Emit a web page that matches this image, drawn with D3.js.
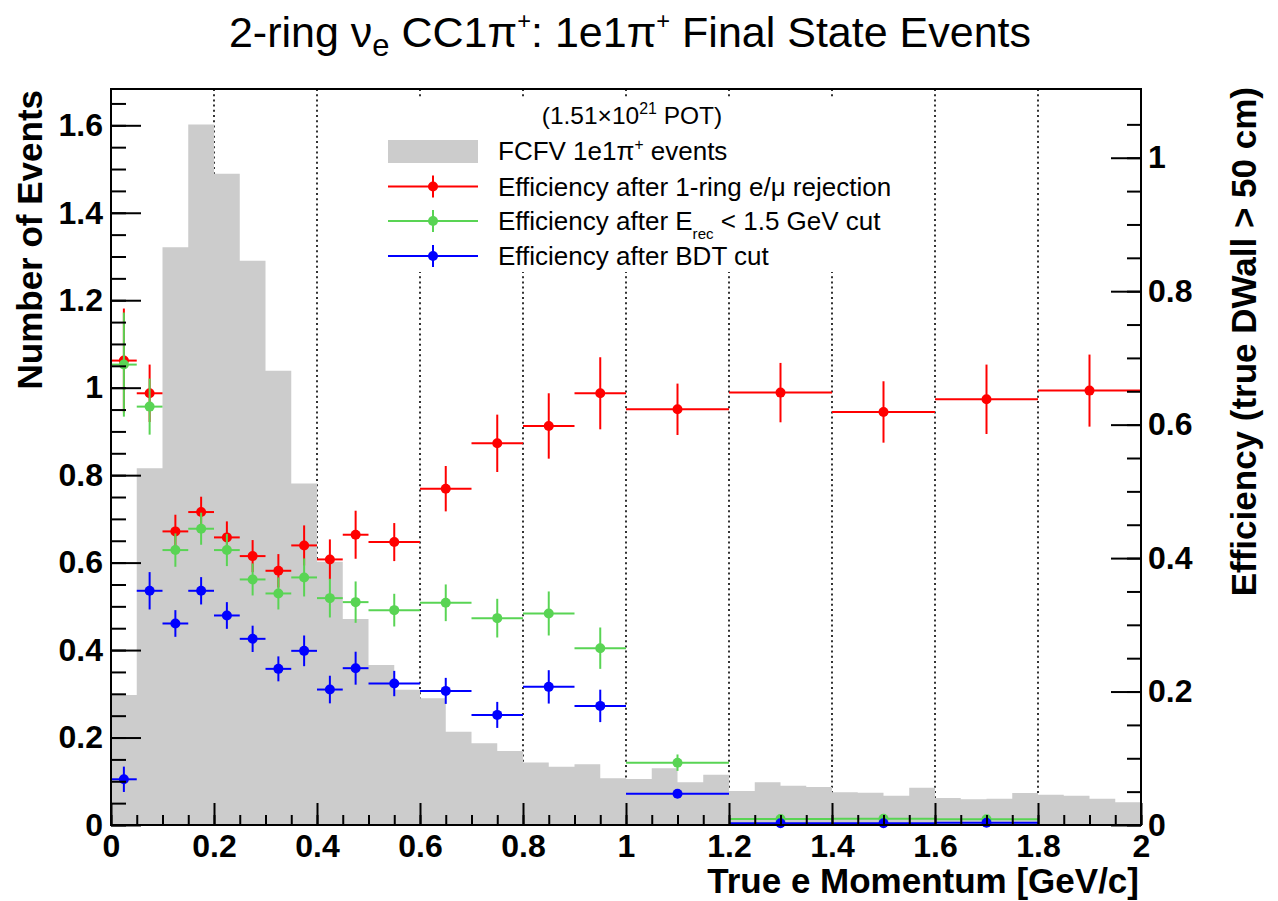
<!DOCTYPE html>
<html><head><meta charset="utf-8">
<script src="https://cdn.jsdelivr.net/npm/d3@7"></script>
<style>body{margin:0;background:#fff}</style>
</head><body>
<svg id="c" width="1278" height="901" xmlns="http://www.w3.org/2000/svg"></svg>
<script>
// ---------------- data ----------------
const histBinWidth = 0.05;
const histValues = [0.297,0.816,1.321,1.602,1.489,1.290,1.039,0.781,0.602,0.471,
                    0.366,0.309,0.290,0.213,0.187,0.169,0.143,0.133,0.139,0.107,
                    0.105,0.130,0.098,0.115,0.078,0.098,0.090,0.087,0.075,0.074,
                    0.067,0.085,0.062,0.059,0.060,0.073,0.069,0.067,0.060,0.052];
const effEdges = [0,0.05,0.1,0.15,0.2,0.25,0.3,0.35,0.4,0.45,0.5,0.6,0.7,0.8,0.9,1.0,1.2,1.4,1.6,1.8,2.0];
const effRejection = [0.696,0.647,0.440,0.469,0.431,0.403,0.381,0.419,0.398,0.435,0.424,0.504,0.572,0.598,0.647,0.623,0.648,0.619,0.638,0.651];
const errRejection = [0.078,0.043,0.025,0.023,0.024,0.024,0.025,0.030,0.030,0.036,0.0285,0.034,0.043,0.049,0.054,0.0385,0.0445,0.046,0.052,0.054];
const effErec = [0.690,0.627,0.412,0.444,0.412,0.368,0.347,0.371,0.340,0.334,0.322,0.333,0.310,0.317,0.265,0.0934,0.009,0.0094,0.0085,null];
const errErec = [0.078,0.042,0.025,0.024,0.024,0.024,0.024,0.0285,0.029,0.031,0.0245,0.0275,0.029,0.033,0.031,0.0123,0.002,0.002,0.002,null];
const effBDT = [0.0685,0.351,0.302,0.351,0.314,0.279,0.234,0.261,0.203,0.235,0.212,0.201,0.165,0.207,0.1785,0.0469,0.0025,0.0025,0.0035,null];
const errBDT = [0.019,0.028,0.020,0.0205,0.020,0.0197,0.0187,0.023,0.0207,0.0247,0.019,0.0195,0.0195,0.025,0.0243,0.003,0.001,0.001,0.001,null];
const xTicks = [0,0.2,0.4,0.6,0.8,1,1.2,1.4,1.6,1.8,2];
const xMinorTicks = d3.range(0,2.0001,0.05);
const yLeftTicks = [0,0.2,0.4,0.6,0.8,1,1.2,1.4,1.6];
const yLeftMinor = d3.range(0,1.68,0.05);
const yRightTicks = [0,0.2,0.4,0.6,0.8,1];
const yRightMinor = d3.range(0,1.1,0.05);
const gridX = [0.2,0.4,0.6,0.8,1.0,1.2,1.4,1.6,1.8];
const seriesNames = ["Efficiency after 1-ring e/\u03bc rejection","Efficiency after E","Efficiency after BDT cut"];
const seriesColors = ["#ff0000","#59d454","#0000ff"];
const histColor = "#cccccc";

// ---------------- layout ----------------
const L = 111, R = 1141, T = 89, B = 825;
const x = d3.scaleLinear().domain([0,2]).range([L,R]);
const yL = d3.scaleLinear().domain([0,1.683]).range([B,T]);
const yR = d3.scaleLinear().domain([0,1.103]).range([B,T]);
const FONT = "'Liberation Sans', Arial, Helvetica, sans-serif";
const svg = d3.select("#c");
svg.append("rect").attr("width",1278).attr("height",901).attr("fill","#fff");

// grid
svg.append("g").selectAll("line").data(gridX).join("line")
  .attr("x1",d=>x(d)).attr("x2",d=>x(d)).attr("y1",T).attr("y2",B)
  .attr("stroke","#000").attr("stroke-width",1.6).attr("stroke-dasharray","2,3.2");

// histogram
let p = d3.path();
p.moveTo(x(0), yL(0));
histValues.forEach((v,i)=>{ const lo=i*histBinWidth, hi=(i+1)*histBinWidth; p.lineTo(x(lo), yL(v)); p.lineTo(x(hi), yL(v)); });
p.lineTo(x(2), yL(0)); p.closePath();
svg.append("path").attr("d",p.toString()).attr("fill",histColor).attr("stroke","none");

// legend box (white, covers grid)
svg.append("rect").attr("x",380).attr("y",97).attr("width",525).attr("height",175).attr("fill","#fff");

// efficiency points
const series = [[effRejection,errRejection],[effErec,errErec],[effBDT,errBDT]];
series.forEach(([vals,errs],si)=>{
  const g = svg.append("g").attr("stroke",seriesColors[si]).attr("fill",seriesColors[si]).attr("stroke-width",2);
  vals.forEach((v,i)=>{
    if(v===null) return;
    const lo=effEdges[i], hi=effEdges[i+1], c=(lo+hi)/2, e=errs[i];
    g.append("line").attr("x1",x(lo)).attr("x2",x(hi)).attr("y1",yR(v)).attr("y2",yR(v));
    g.append("line").attr("x1",x(c)).attr("x2",x(c)).attr("y1",yR(Math.max(0,v-e))).attr("y2",yR(v+e));
    g.append("circle").attr("cx",x(c)).attr("cy",yR(v)).attr("r",5).attr("stroke","none");
  });
});

// axes
function styleAxis(g){ g.select(".domain").remove(); g.selectAll("line").attr("stroke","#000").attr("stroke-width",2);
  g.selectAll("text").attr("font-family",FONT).attr("font-weight","bold").attr("font-size",32).attr("fill","#000"); }
const fmt = d=>String(+d.toFixed(2));
svg.append("g").attr("transform",`translate(0,${B})`).call(d3.axisBottom(x).tickValues(xMinorTicks).tickSize(-10).tickFormat("")).call(styleAxis);
svg.append("g").attr("transform",`translate(0,${B})`).call(d3.axisBottom(x).tickValues(xTicks).tickSize(-22).tickPadding(9).tickFormat(fmt)).call(styleAxis);
svg.append("g").attr("transform",`translate(${L},0)`).call(d3.axisLeft(yL).tickValues(yLeftMinor).tickSize(-15).tickFormat("")).call(styleAxis);
svg.append("g").attr("transform",`translate(${L},0)`).call(d3.axisLeft(yL).tickValues(yLeftTicks).tickSize(-30).tickPadding(8).tickFormat(fmt)).call(styleAxis);
svg.append("g").attr("transform",`translate(${R},0)`).call(d3.axisRight(yR).tickValues(yRightMinor).tickSize(-14).tickFormat("")).call(styleAxis);
svg.append("g").attr("transform",`translate(${R},0)`).call(d3.axisRight(yR).tickValues(yRightTicks).tickSize(-30).tickPadding(7).tickFormat(fmt)).call(styleAxis);

// frame
svg.append("rect").attr("x",L).attr("y",T).attr("width",R-L).attr("height",B-T).attr("fill","none").attr("stroke","#000").attr("stroke-width",2);

// rich text helper
function rich(sel, parts, fs){
  let shift = 0;
  parts.forEach(pt=>{
    const s = pt.scale || 1;
    const target = pt.sup ? -pt.sup*fs : (pt.sub ? pt.sub*fs : 0);
    sel.append("tspan").attr("dy", target - shift).attr("font-size", fs*s).text(pt.t);
    shift = target;
  });
}

// axis titles
svg.append("text").attr("x",R-2).attr("y",893).attr("text-anchor","end")
  .attr("font-family",FONT).attr("font-weight","bold").attr("font-size",35).text("True e Momentum [GeV/c]");
svg.append("text").attr("transform",`translate(42,${T+1}) rotate(-90)`).attr("text-anchor","end")
  .attr("font-family",FONT).attr("font-weight","bold").attr("font-size",35).text("Number of Events");
svg.append("text").attr("transform",`translate(1256,${T-2}) rotate(-90)`).attr("text-anchor","end")
  .attr("font-family",FONT).attr("font-weight","bold").attr("font-size",35).text("Efficiency (true DWall > 50 cm)");

// title
const title = svg.append("text").attr("x",630).attr("y",47).attr("text-anchor","middle").attr("font-family",FONT).attr("font-size",43);
rich(title,[{t:"2-ring \u03bd"},{t:"e",sub:0.22,scale:0.72},{t:" CC1\u03c0"},{t:"+",sup:0.42,scale:0.55},{t:": 1e1\u03c0"},{t:"+",sup:0.42,scale:0.55},{t:" Final State Events"}],43);

// legend
const LF = 26;
const pot = svg.append("text").attr("x",632).attr("y",124).attr("text-anchor","middle").attr("font-family",FONT).attr("font-size",24.5);
rich(pot,[{t:"(1.51\u00d710"},{t:"21",sup:0.4,scale:0.65},{t:" POT)"}],24.5);
svg.append("rect").attr("x",388).attr("y",140).attr("width",90).attr("height",23).attr("fill",histColor);
const t0 = svg.append("text").attr("x",498).attr("y",160).attr("font-family",FONT).attr("font-size",LF);
rich(t0,[{t:"FCFV 1e1\u03c0"},{t:"+",sup:0.4,scale:0.6},{t:" events"}],LF);
const rowsY = [186.5,221,256];
rowsY.forEach((cy,i)=>{
  const g = svg.append("g").attr("stroke",seriesColors[i]).attr("fill",seriesColors[i]).attr("stroke-width",2);
  g.append("line").attr("x1",388).attr("x2",478).attr("y1",cy).attr("y2",cy);
  g.append("line").attr("x1",433).attr("x2",433).attr("y1",cy-11).attr("y2",cy+11);
  g.append("circle").attr("cx",433).attr("cy",cy).attr("r",5).attr("stroke","none");
  const t = svg.append("text").attr("x",498).attr("y",cy+9).attr("font-family",FONT).attr("font-size",LF);
  if(i===1) rich(t,[{t:seriesNames[1]},{t:"rec",sub:0.34,scale:0.58},{t:"  < 1.5 GeV cut"}],LF);
  else t.text(seriesNames[i]);
});
</script>
</body></html>
